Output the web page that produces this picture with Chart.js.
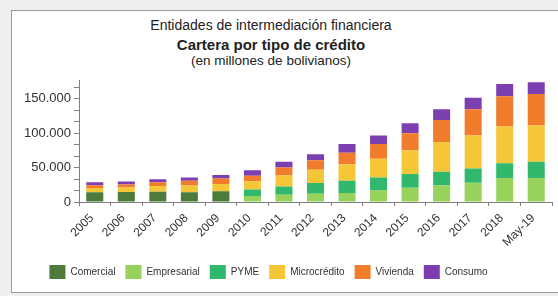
<!DOCTYPE html>
<html>
<head>
<meta charset="utf-8">
<script src="https://cdn.jsdelivr.net/npm/chart.js@4/dist/chart.umd.min.js"></script>
<style>
  html, body { margin:0; padding:0; width:558px; height:296px; overflow:hidden; background:#efefef; }
  #panel { position:absolute; left:11px; top:10px; width:560px; height:281px; background:#fff;
           border-top:1px solid #9a9a9a; border-left:1px solid #9a9a9a; border-bottom:1px solid #9a9a9a; }
  .t { position:absolute; left:0; width:542px; text-align:center; color:#222; font-family:"Liberation Sans", Arial, sans-serif; white-space:nowrap; }
  #t1 { top:17px; font-size:14px; line-height:17px; }
  #t2 { top:36px; font-size:15px; line-height:18px; font-weight:bold; }
  #t3 { top:52px; font-size:13.5px; line-height:17px; }
  #c { position:absolute; left:-15px; top:70px; }
</style>
</head>
<body>
<div id="panel"></div>
<div class="t" id="t1">Entidades de intermediación financiera</div>
<div class="t" id="t2">Cartera por tipo de crédito</div>
<div class="t" id="t3">(en millones de bolivianos)</div>
<canvas id="c" width="568" height="222"></canvas>
<script>
const categories = ['2005','2006','2007','2008','2009','2010','2011','2012','2013','2014','2015','2016','2017','2018','May-19'];
const comercial   = [14000, 14500, 15000, 14300, 15700, 0, 0, 0, 0, 0, 0, 0, 0, 0, 0];
const empresarial = [0, 0, 0, 0, 0, 8600, 10600, 12000, 12900, 16700, 20600, 23800, 28100, 34900, 34900];
const pyme        = [0, 0, 0, 0, 0, 9500, 11900, 15700, 18100, 19000, 20000, 20000, 20400, 21400, 23700];
const micro       = [6200, 6700, 8100, 9500, 10500, 11900, 16100, 19000, 23800, 27100, 34300, 43300, 48100, 53300, 52400];
const vivienda    = [4300, 4300, 5700, 7100, 8100, 8100, 11400, 13900, 16700, 21400, 25100, 32000, 38100, 43900, 45700];
const consumo     = [4300, 4300, 4300, 4800, 4800, 8100, 8600, 8600, 12900, 12400, 14300, 15700, 16600, 18000, 17100];
const seriesNames = ['Comercial','Empresarial','PYME','Microcrédito','Vivienda','Consumo'];
// y-axis tick marks (labelled every 50.000, minor marks in between)
const yTickValues  = [0, 16667, 33333, 50000, 66667, 83333, 100000, 116667, 133333, 150000, 166667];
const yLabelValues = [0, 50000, 100000, 150000];

const colors = ['#4d7b3b','#97d25b','#31b86c','#f5c738','#f07c2c','#7c3fb0'];
const seriesData = [comercial, empresarial, pyme, micro, vivienda, consumo];

function fmt(v){ return String(Math.round(v)).replace(/\B(?=(\d{3})+(?!\d))/g, '.'); }

new Chart(document.getElementById('c'), {
  type: 'bar',
  data: {
    labels: categories,
    datasets: seriesNames.map((n, i) => ({
      label: n, data: seriesData[i], backgroundColor: colors[i], borderWidth: 0,
      barPercentage: 0.54, categoryPercentage: 1.0
    }))
  },
  options: {
    responsive: false,
    animation: false,
    layout: { padding: { left: 0, right: 1, top: 0, bottom: 3 } },
    plugins: {
      legend: {
        position: 'bottom',
        labels: { boxWidth: 16, boxHeight: 14, padding: 10, color: '#333',
                  font: { family: 'Liberation Sans, Arial, sans-serif', size: 10 } }
      },
      tooltip: { enabled: false },
      title: { display: false }
    },
    scales: {
      x: {
        stacked: true,
        border: { display: true, color: '#7f7f7f', width: 1 },
        grid: { display: true, drawOnChartArea: false, drawTicks: true, tickLength: 4, color: '#7f7f7f' },
        ticks: { minRotation: 45, maxRotation: 45, padding: 5, labelOffset: -3, color: '#333',
                 font: { family: 'Liberation Sans, Arial, sans-serif', size: 12 } },
        afterFit: s => { s.height = 53; }
      },
      y: {
        stacked: true,
        min: 0, max: 176000,
        border: { display: true, color: '#7f7f7f', width: 1 },
        grid: { display: true, drawOnChartArea: false, drawTicks: true, tickLength: 5, color: '#7f7f7f' },
        afterBuildTicks: s => { s.ticks = yTickValues.map(v => ({ value: v })); },
        afterFit: s => { s.width = 94; },
        ticks: {
          autoSkip: false, padding: 3, color: '#333',
          font: { family: 'Liberation Sans, Arial, sans-serif', size: 13 },
          callback: v => {
            const hit = yLabelValues.find(t => Math.abs(t - v) < 1);
            return hit !== undefined ? fmt(hit) : '';
          }
        }
      }
    }
  }
});
</script>
</body>
</html>
